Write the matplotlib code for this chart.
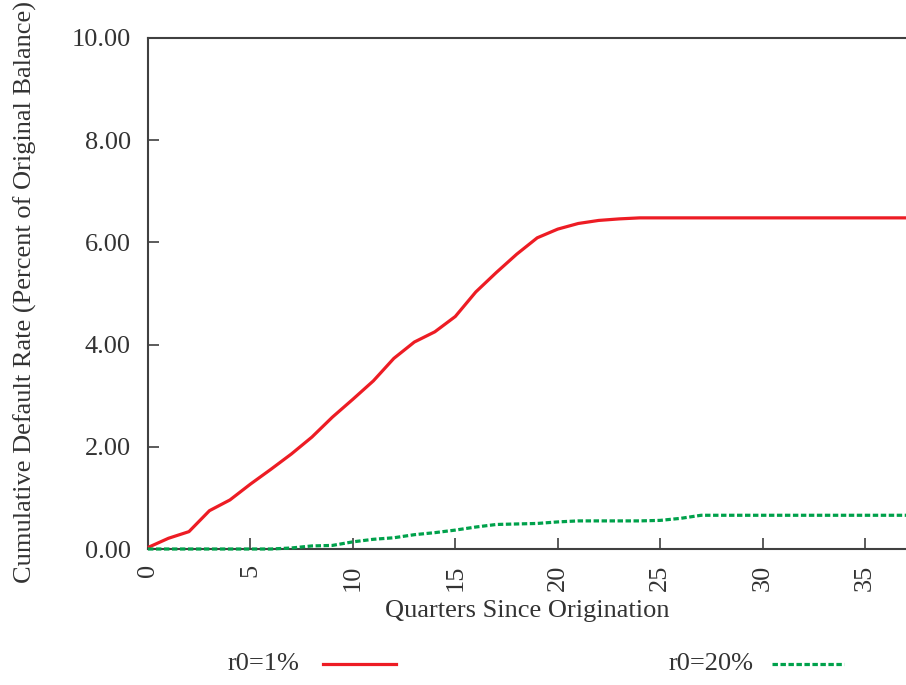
"""
Cumulative default rate by quarter since origination, two initial rates.
Output: out.png
"""
import matplotlib
matplotlib.use("Agg")
import matplotlib.pyplot as plt
from matplotlib.lines import Line2D

# ── Data ───────────────────────────────────────────────────────────────────────
quarters = list(range(0, 38))

r0_1pct = [0.03, 0.21, 0.34, 0.75, 0.96, 1.27, 1.56, 1.86, 2.19, 2.58,
           2.93, 3.29, 3.73, 4.05, 4.25, 4.55, 5.03, 5.41, 5.77, 6.09,
           6.26, 6.37, 6.43, 6.46, 6.48, 6.48, 6.48, 6.48, 6.48, 6.48,
           6.48, 6.48, 6.48, 6.48, 6.48, 6.48, 6.48, 6.48]

r0_20pct = [0.00, 0.00, 0.00, 0.00, 0.00, 0.00, 0.00, 0.02, 0.06, 0.07,
            0.14, 0.19, 0.22, 0.28, 0.32, 0.37, 0.43, 0.48, 0.49, 0.50,
            0.53, 0.55, 0.55, 0.55, 0.55, 0.56, 0.60, 0.66, 0.66, 0.66,
            0.66, 0.66, 0.66, 0.66, 0.66, 0.66, 0.66, 0.66]

x_ticks = [0, 5, 10, 15, 20, 25, 30, 35]
y_ticks = [0, 2, 4, 6, 8, 10]

RED   = "#ed1c24"
GREEN = "#00a14b"
AXC   = "#404040"
TXT   = "#333333"
FS    = 19
DASH  = (1.7, 0.8)

plt.rcParams["font.family"] = ["Liberation Serif", "DejaVu Serif"]

W, H = 906, 685
fig = plt.figure(figsize=(W / 100, H / 100), dpi=100, facecolor="white")
ax = fig.add_axes([148 / W, (H - 549) / H, (906 - 148) / W, (549 - 38) / H])

ax.plot(quarters, r0_1pct, color=RED, lw=2.3, solid_capstyle="butt",
        zorder=3, clip_on=False)
ax.plot(quarters, r0_20pct, color=GREEN, lw=2.3, dashes=DASH,
        zorder=3, clip_on=False)

ax.set_xlim(0, 37)
ax.set_ylim(0, 10)
ax.set_xticks(x_ticks)
ax.set_yticks(y_ticks)
ax.set_yticklabels([f"{v:.2f}" for v in y_ticks])
ax.set_xticklabels([str(v) for v in x_ticks], rotation=90)

for s in ["left", "bottom", "top"]:
    ax.spines[s].set_color(AXC)
    ax.spines[s].set_linewidth(1.5)
ax.spines["right"].set_visible(False)

ax.tick_params(axis="both", direction="in", length=8, width=1.2, color=AXC,
               labelsize=FS, labelcolor=TXT)
ax.tick_params(axis="y", pad=12.5)
ax.tick_params(axis="x", pad=11)

ax.set_xlabel("Quarters Since Origination", fontsize=FS, color=TXT, labelpad=7)
fig.text(25 / W, 1 - 292 / H, "Cumulative Default Rate (Percent of Original Balance)",
         rotation=90, ha="center", va="center", fontsize=FS, color=TXT)

# ── Legend (below the plot) ────────────────────────────────────────────────────
ly = 1 - 664 / H
fig.text(299 / W, ly, "r0=1%", ha="right", va="center", fontsize=FS, color=TXT)
fig.add_artist(Line2D([323 / W, 396 / W], [ly, ly], color=RED, lw=2.3,
                      transform=fig.transFigure))
fig.text(754 / W, ly, "r0=20%", ha="right", va="center", fontsize=FS, color=TXT)
fig.add_artist(Line2D([772 / W, 844 / W], [ly, ly], color=GREEN, lw=2.3,
                      dashes=DASH, transform=fig.transFigure))

fig.savefig("out.png", dpi=100, facecolor="white")
